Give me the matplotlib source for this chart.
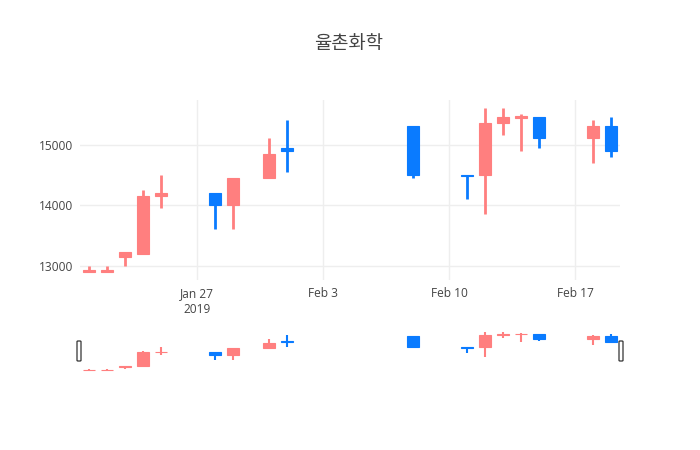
import matplotlib
matplotlib.use('Agg')
import matplotlib.pyplot as plt
import matplotlib.dates as mdates
from matplotlib.patches import FancyBboxPatch
import pandas as pd

plt.rcParams['font.family'] = ['Open Sans', 'Noto Sans CJK KR', 'DejaVu Sans']

# daily prices
dates = ['2019-01-21', '2019-01-22', '2019-01-23', '2019-01-24', '2019-01-25',
         '2019-01-28', '2019-01-29', '2019-01-31', '2019-02-01', '2019-02-08',
         '2019-02-11', '2019-02-12', '2019-02-13', '2019-02-14', '2019-02-15',
         '2019-02-18', '2019-02-19']
open_ = [12900, 12900, 13150, 13200, 14150, 14200, 14000, 14450, 14950, 15300,
         14500, 14500, 15350, 15430, 15450, 15100, 15300]
high = [13000, 13000, 13220, 14250, 14500, 14200, 14450, 15100, 15400, 15300,
        14500, 15600, 15600, 15500, 15450, 15400, 15450]
low = [12900, 12900, 13000, 13200, 13950, 13600, 13600, 14450, 14550, 14450,
       14100, 13850, 15150, 14900, 14950, 14700, 14800]
close = [12920, 12920, 13220, 14150, 14200, 14000, 14450, 14850, 14900, 14500,
         14490, 15350, 15450, 15470, 15100, 15300, 14900]

title = '율촌화학'
xticks = ['2019-01-27', '2019-02-03', '2019-02-10', '2019-02-17']
xtick_labels = ['Jan 27\n2019', 'Feb 3', 'Feb 10', 'Feb 17']
yticks = [13000, 14000, 15000]

UP = '#FF7F7F'
DOWN = '#0A7BFF'
GRID = '#eeeeee'
TXT = '#444444'

x = mdates.date2num(pd.to_datetime(dates))
xmin = mdates.date2num(pd.Timestamp('2019-01-20 12:00'))
xmax = mdates.date2num(pd.Timestamp('2019-02-19 12:00'))
span = max(high) - min(low)
ymin, ymax = min(low) - span * 0.05, max(high) + span * 0.05


def draw_candles(ax, wick_lw, min_h):
    for xi, o, h, l, c in zip(x, open_, high, low, close):
        col = UP if c > o else DOWN
        ax.vlines(xi, l, h, color=col, lw=wick_lw, zorder=2)
        bottom = min(o, c)
        height = max(abs(c - o), min_h)
        if c <= o and abs(c - o) < min_h:
            bottom = max(o, c) - height
        ax.bar(xi, height, bottom=bottom, width=0.65, color=col,
               edgecolor=col, lw=0.8, zorder=3)


fig = plt.figure(figsize=(7, 4.5), dpi=100)

# main chart
ax = fig.add_axes([80 / 700, 170 / 450, 540 / 700, 180 / 450])
draw_candles(ax, 2.0, 25)
ax.set_xlim(xmin, xmax)
ax.set_ylim(ymin, ymax)
ax.set_xticks(mdates.date2num(pd.to_datetime(xticks)))
ax.set_xticklabels(xtick_labels)
ax.set_yticks(yticks)
ax.set_yticklabels([str(v) for v in yticks])
ax.grid(True, color=GRID, lw=1)
ax.set_axisbelow(True)
for s in ax.spines.values():
    s.set_visible(False)
ax.tick_params(length=0, labelsize=8.6, colors=TXT, pad=5)
for lab in ax.get_xticklabels():
    lab.set_linespacing(1.3)

# range slider
sl = fig.add_axes([80 / 700, 78 / 450, 540 / 700, 42 / 450])
draw_candles(sl, 1.5, 40)
sl.set_xlim(xmin, xmax)
sl.set_ylim(ymin, ymax)
sl.set_xticks([])
sl.set_yticks([])
for s in sl.spines.values():
    s.set_visible(False)

for hx in (79, 621):
    fig.patches.append(FancyBboxPatch(((hx - 2) / 700, 89 / 450), 4 / 700, 20 / 450,
                                      boxstyle='round,pad=0,rounding_size=0.0015',
                                      transform=fig.transFigure, facecolor='white',
                                      edgecolor='#333333', lw=0.9, zorder=5))

fig.text(349 / 700, 1 - 44 / 450, title, ha='center', va='center',
         fontsize=13.5, color=TXT, family=['Noto Sans CJK KR', 'DejaVu Sans'])

fig.savefig('out.png', dpi=100)
